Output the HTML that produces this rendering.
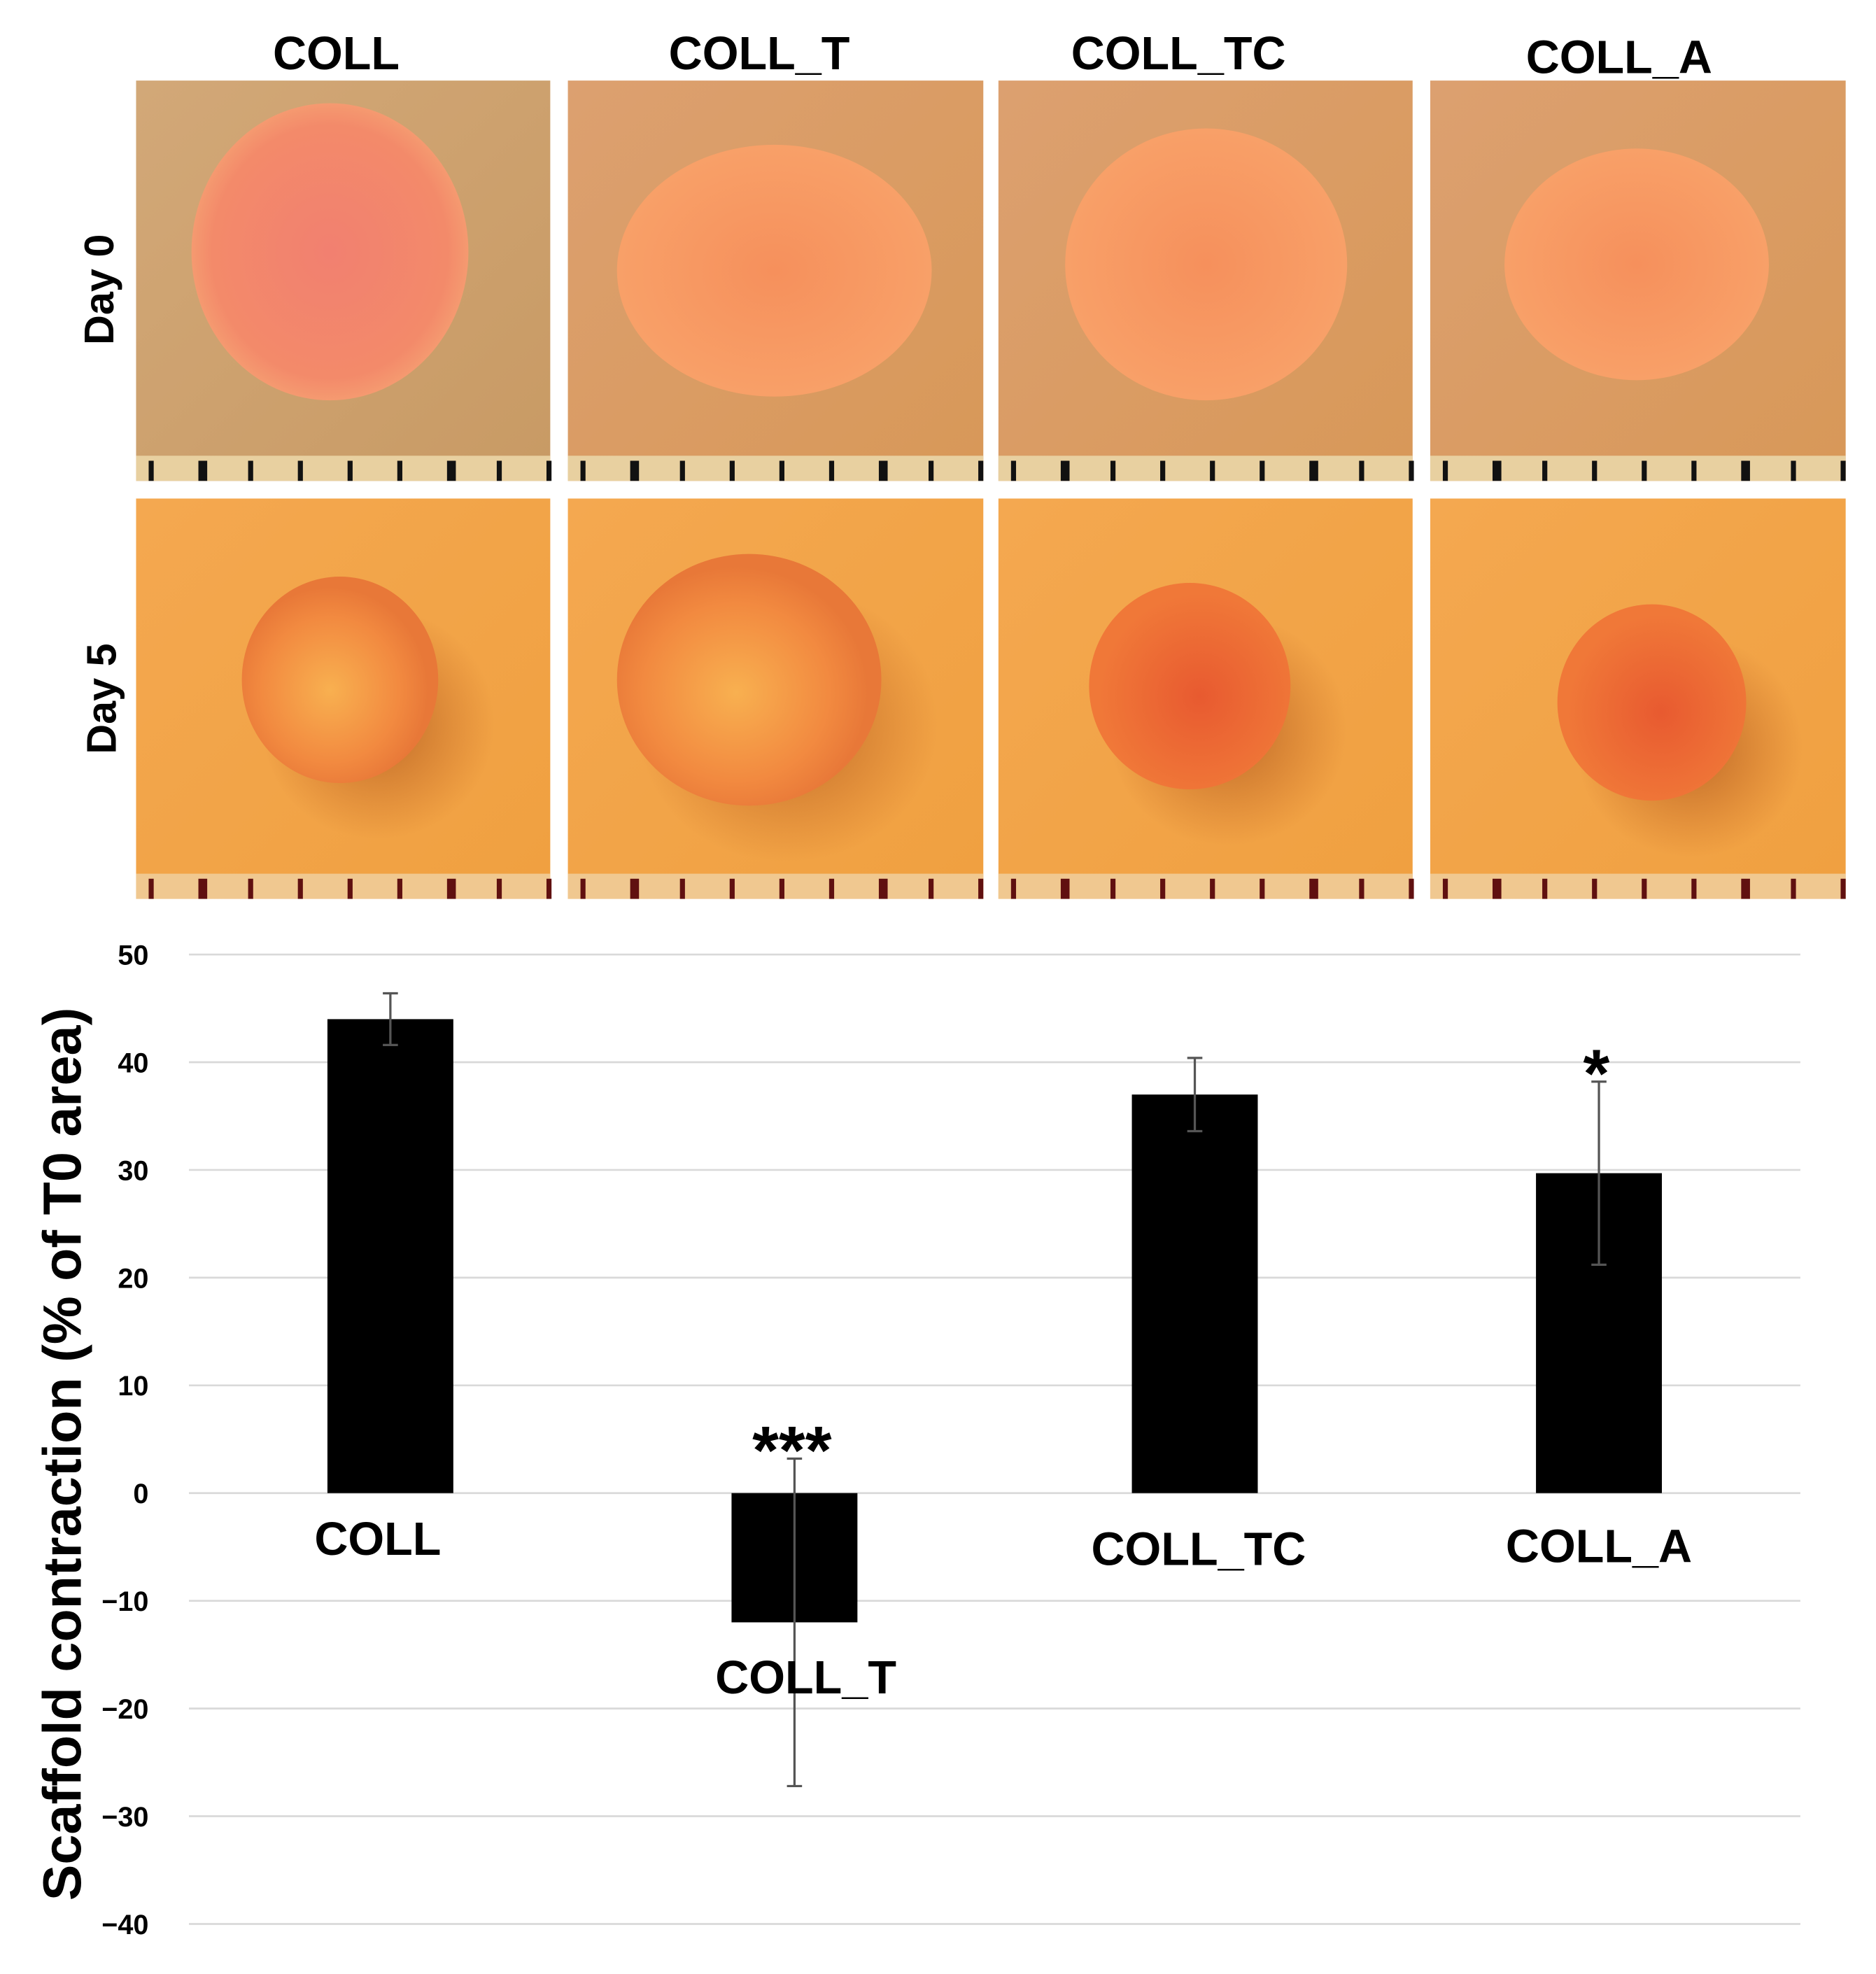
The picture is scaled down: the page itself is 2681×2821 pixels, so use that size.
<!DOCTYPE html>
<html><head><meta charset="utf-8"><style>
html,body{margin:0;padding:0;background:#fff}
svg{display:block}
text{font-family:"Liberation Sans",Arial,sans-serif;font-weight:bold}
</style></head><body>
<svg id="fig" xmlns="http://www.w3.org/2000/svg" width="2681" height="2821" viewBox="0 0 1490 1568">
<defs>
<linearGradient id="bg0" x1="0" y1="0" x2="1" y2="1"><stop offset="0" stop-color="#d2a878"/><stop offset="1" stop-color="#c89a64"/></linearGradient>
<linearGradient id="bg0b" x1="0" y1="0" x2="1" y2="1"><stop offset="0" stop-color="#dca070"/><stop offset="1" stop-color="#d89858"/></linearGradient>
<linearGradient id="bg1" x1="0" y1="0" x2="1" y2="1"><stop offset="0" stop-color="#f4a850"/><stop offset="1" stop-color="#f0a040"/></linearGradient>
<radialGradient id="d0"><stop offset="0" stop-color="#f28070"/><stop offset="0.85" stop-color="#f38a6a"/><stop offset="1" stop-color="#f59a70"/></radialGradient>
<radialGradient id="d0b"><stop offset="0" stop-color="#f6905c"/><stop offset="1" stop-color="#f8a068"/></radialGradient>
<radialGradient id="d1" cx="0.45" cy="0.55"><stop offset="0" stop-color="#f8b050"/><stop offset="0.7" stop-color="#f28a40"/><stop offset="1" stop-color="#e87838"/></radialGradient>
<radialGradient id="d2" cx="0.55" cy="0.55"><stop offset="0" stop-color="#e85a30"/><stop offset="1" stop-color="#f07838"/></radialGradient>
<radialGradient id="sh"><stop offset="0" stop-color="#b05a20" stop-opacity="0.8"/><stop offset="1" stop-color="#c06020" stop-opacity="0"/></radialGradient>
</defs>

<g font-size="37" text-anchor="middle" fill="#000">
<text x="267" y="55">COLL</text>
<text x="603" y="55">COLL_T</text>
<text x="936" y="55">COLL_TC</text>
<text x="1286" y="58">COLL_A</text>
</g>
<text transform="translate(90,230) rotate(-90)" font-size="33" text-anchor="middle">Day 0</text>
<text transform="translate(92,555) rotate(-90)" font-size="33" text-anchor="middle">Day 5</text>

<g id="photos"></g>

<g id="chart"></g>
<text transform="translate(64,1155) rotate(-90)" font-size="43" text-anchor="middle">Scaffold contraction (% of T0 area)</text>
</svg>
<script>
const NS="http://www.w3.org/2000/svg";
function mk(tag,attrs,parent){const e=document.createElementNS(NS,tag);for(const k in attrs)e.setAttribute(k,attrs[k]);parent.appendChild(e);return e;}
const photos=document.getElementById('photos');
const colX=[108,451,793,1136], colW=[329,330,329,330];
const rowY=[64,396], rowH=318;
const discs0=[[262,200,110,118,'url(#d0)'],[615,215,125,100,'url(#d0b)'],[958,210,112,108,'url(#d0b)'],[1300,210,105,92,'url(#d0b)']];
const discs1=[[270,540,78,82,'url(#d1)'],[595,540,105,100,'url(#d1)'],[945,545,80,82,'url(#d2)'],[1312,558,75,78,'url(#d2)']];
for(let r=0;r<2;r++)for(let c=0;c<4;c++){
  const g=mk('g',{},photos);
  
  
  mk('rect',{x:colX[c],y:rowY[r],width:colW[c],height:rowH,fill:r?'url(#bg1)':(c==0?'url(#bg0)':'url(#bg0b)')},g);
  const d=r?discs1[c]:discs0[c];
  if(r) mk('ellipse',{cx:d[0]+30,cy:d[1]+35,rx:d[2]+15,ry:d[3]+10,fill:'url(#sh)'},g);
  mk('ellipse',{cx:d[0],cy:d[1],rx:d[2],ry:d[3],fill:d[4]},g);
  const ry=rowY[r]+rowH-20;
  mk('rect',{x:colX[c],y:ry,width:colW[c],height:20,fill:r?'#f0c890':'#e8d0a0'},g);
  for(let t=0;t<9;t++){const x=colX[c]+10+t*39.5;mk('rect',{x:x,y:ry+4,width:t%5==1?7:4,height:16,fill:r?'#601010':'#111'},g);}
}
const categories=["COLL","COLL_T","COLL_TC","COLL_A"];
const values=[44,-12,37,29.7];
const errors=[2.4,15.2,3.4,8.5];
const ticks=[50,40,30,20,10,0,-10,-20,-30,-40];
const tickLabels=["50","40","30","20","10","0","\u221210","\u221220","\u221230","\u221240"];
const stars=["","***","","*"];
const ch=document.getElementById('chart');
const y=v=>1186-v*8.556;
const xc=i=>[310,631,949,1270][i];
ticks.forEach((t,i)=>{
  const l=mk('line',{x1:150,x2:1430,y1:y(t),y2:y(t),stroke:'#d9d9d9','stroke-width':1.5},ch);
  
  
  const tx=mk('text',{x:118,y:y(t)+8,'font-size':22,'text-anchor':'end'},ch);
  tx.textContent=tickLabels[i];
  
  
});
const labelY=[1222,1332,1230,1228];
values.forEach((v,i)=>{
  const b=mk('rect',{x:xc(i)-50,y:Math.min(y(v),y(0)),width:100,height:Math.abs(y(v)-y(0)),fill:'#000'},ch);
  
  
  const hi=y(v+errors[i]),lo=y(v-errors[i]);
  const e=mk('path',{d:`M${xc(i)} ${hi}V${lo}M${xc(i)-6} ${hi}H${xc(i)+6}M${xc(i)-6} ${lo}H${xc(i)+6}`,stroke:'#555','stroke-width':1.8,fill:'none'},ch);
  
  
  const lb=mk('text',{x:xc(i)+[-10,9,3,0][i],y:labelY[i]+13,'font-size':37,'text-anchor':'middle'},ch);
  lb.textContent=categories[i];
  
  
  if(stars[i]){
    const s=mk('text',{x:xc(i)-2,y:hi+12,'font-size':54,'text-anchor':'middle'},ch);
    s.textContent=stars[i];
    
    
  }
});
</script>
</body></html>
